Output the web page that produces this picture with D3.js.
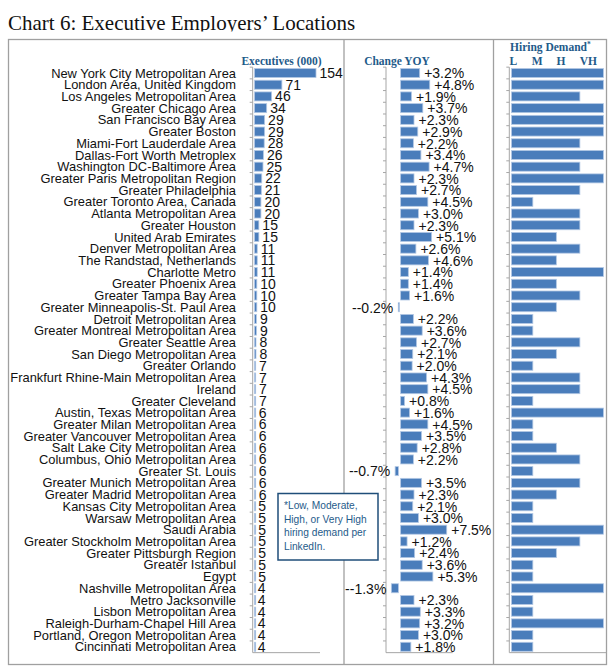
<!DOCTYPE html>
<html>
<head>
<meta charset="utf-8">
<script src="https://cdn.jsdelivr.net/npm/d3@7"></script>
<style>
  html, body { margin: 0; padding: 0; background: #fff; }
  svg { display: block; }
</style>
</head>
<body>
<div id="chart"></div>
<script>
// ---------------- DATA ----------------
const categories = [
  "New York City Metropolitan Area", "London Area, United Kingdom", "Los Angeles Metropolitan Area",
  "Greater Chicago Area", "San Francisco Bay Area", "Greater Boston", "Miami-Fort Lauderdale Area",
  "Dallas-Fort Worth Metroplex", "Washington DC-Baltimore Area", "Greater Paris Metropolitan Region",
  "Greater Philadelphia", "Greater Toronto Area, Canada", "Atlanta Metropolitan Area", "Greater Houston",
  "United Arab Emirates", "Denver Metropolitan Area", "The Randstad, Netherlands", "Charlotte Metro",
  "Greater Phoenix Area", "Greater Tampa Bay Area", "Greater Minneapolis-St. Paul Area",
  "Detroit Metropolitan Area", "Greater Montreal Metropolitan Area", "Greater Seattle Area",
  "San Diego Metropolitan Area", "Greater Orlando", "Frankfurt Rhine-Main Metropolitan Area", "Ireland",
  "Greater Cleveland", "Austin, Texas Metropolitan Area", "Greater Milan Metropolitan Area",
  "Greater Vancouver Metropolitan Area", "Salt Lake City Metropolitan Area", "Columbus, Ohio Metropolitan Area",
  "Greater St. Louis", "Greater Munich Metropolitan Area", "Greater Madrid Metropolitan Area",
  "Kansas City Metropolitan Area", "Warsaw Metropolitan Area", "Saudi Arabia",
  "Greater Stockholm Metropolitan Area", "Greater Pittsburgh Region", "Greater Istanbul", "Egypt",
  "Nashville Metropolitan Area", "Metro Jacksonville", "Lisbon Metropolitan Area",
  "Raleigh-Durham-Chapel Hill Area", "Portland, Oregon Metropolitan Area", "Cincinnati Metropolitan Area"
];
const executives = [154, 71, 46, 34, 29, 29, 28, 26, 25, 22, 21, 20, 20, 15, 15, 11, 11, 11, 10, 10, 10,
  9, 9, 8, 8, 7, 7, 7, 7, 6, 6, 6, 6, 6, 6, 6, 6, 5, 5, 5, 5, 5, 5, 5, 4, 4, 4, 4, 4, 4];
const changeYOY = [3.2, 4.8, 1.9, 3.7, 2.3, 2.9, 2.2, 3.4, 4.7, 2.3, 2.7, 4.5, 3.0, 2.3, 5.1, 2.6, 4.6,
  1.4, 1.4, 1.6, -0.2, 2.2, 3.6, 2.7, 2.1, 2.0, 4.3, 4.5, 0.8, 1.6, 4.5, 3.5, 2.8, 2.2, -0.7, 3.5, 2.3,
  2.1, 3.0, 7.5, 1.2, 2.4, 3.6, 5.3, -1.3, 2.3, 3.3, 3.2, 3.0, 1.8];
const hiringDemand = ["VH", "VH", "H", "VH", "VH", "VH", "H", "VH", "H", "VH", "H", "L", "H", "H", "M",
  "H", "M", "VH", "M", "H", "M", "L", "L", "H", "M", "L", "H", "H", "L", "VH", "L", "L", "M", "H", "L",
  "H", "M", "L", "L", "VH", "H", "M", "L", "L", "VH", "L", "L", "VH", "L", "L"];
const hiringLevels = ["L", "M", "H", "VH"];

const titleText = "Chart 6: Executive Employers\u2019 Locations";
const headerExec = "Executives (000)";
const headerChange = "Change YOY";
const headerHiring = "Hiring Demand";
const noteLines = ["*Low, Moderate,", "High, or Very High", "hiring demand per", "LinkedIn."];

// ---------------- LAYOUT ----------------
const W = 612, H = 670;
const barFill = "#4a7dbb", barStroke = "#b3c8e4";
const headColor = "#1f5b8a";
const axisColor = "#a6a6a6";
const frameColor = "#a0a0a0";

const svg = d3.select("#chart").append("svg")
  .attr("width", W).attr("height", H)
  .attr("viewBox", `0 0 ${W} ${H}`);

// Title (its lower part is clipped in the reference)
svg.append("clipPath").attr("id", "titleClip")
  .append("rect").attr("x", 0).attr("y", 0).attr("width", W).attr("height", 31.5);
svg.append("text")
  .attr("clip-path", "url(#titleClip)")
  .attr("x", 8).attr("y", 30)
  .attr("font-family", "'Liberation Serif', 'Times New Roman', serif")
  .attr("font-size", 21)
  .attr("fill", "#111")
  .text(titleText);

// Frame
const frame = { x0: 8.5, y0: 39.5, x1: 606.5, y1: 664.5 };
svg.append("rect")
  .attr("x", frame.x0).attr("y", frame.y0)
  .attr("width", frame.x1 - frame.x0).attr("height", frame.y1 - frame.y0)
  .attr("fill", "none").attr("stroke", frameColor).attr("stroke-width", 1.3);
[344, 493.5].forEach(x => {
  svg.append("line").attr("x1", x).attr("x2", x).attr("y1", frame.y0).attr("y2", frame.y1)
    .attr("stroke", frameColor).attr("stroke-width", 1.3);
});

// Band scale for rows
const y = d3.scaleBand().domain(categories).range([67.15, 652.65]).paddingInner(0.23).paddingOuter(0.115);
const step = y.step();
const rows = categories.map((c, i) => ({
  name: c, exec: executives[i], chg: changeYOY[i],
  hire: hiringLevels.indexOf(hiringDemand[i]) + 1
}));

// Scales for each panel
const xE = d3.scaleLinear().domain([0, 163.7]).range([252.7, 320]);
const xC = d3.scaleLinear().domain([-2.15, 8.45]).range([386, 452.7]);
const xH = d3.scaleLinear().domain([0, 4.11]).range([509.3, 606]);

function drawAxis(x0, x1) {
  const g = svg.append("g");
  const yTop = y.range()[0], yBot = y.range()[1];
  g.append("line").attr("x1", x0).attr("x2", x0).attr("y1", yTop).attr("y2", yBot)
    .attr("stroke", axisColor).attr("stroke-width", 1);
  g.append("line").attr("x1", x0).attr("x2", x1).attr("y1", yBot).attr("y2", yBot)
    .attr("stroke", axisColor).attr("stroke-width", 1);
  const ticks = d3.range(categories.length).map(i => yTop + i * step);
  g.selectAll("line.tick").data(ticks).join("line").attr("class", "tick")
    .attr("x1", x0 - 3).attr("x2", x0).attr("y1", d => d).attr("y2", d => d)
    .attr("stroke", axisColor).attr("stroke-width", 1);
}
drawAxis(xE.range()[0], xE.range()[1]);
drawAxis(xC.range()[0], xC.range()[1]);
drawAxis(xH.range()[0], xH.range()[1]);

const sans = "'Liberation Sans', Arial, Helvetica, sans-serif";
const serif = "'Liberation Serif', 'Times New Roman', serif";
const cy = d => y(d.name) + y.bandwidth() / 2;

// Category labels
svg.append("g").selectAll("text").data(rows).join("text")
  .attr("x", 236).attr("y", cy).attr("dy", "0.36em")
  .attr("text-anchor", "end")
  .attr("font-family", sans).attr("font-size", 12.9).attr("fill", "#111")
  .text(d => d.name);

// Executives bars
const inset = 1.8;
svg.append("g").selectAll("rect").data(rows).join("rect")
  .attr("x", xE(0) + inset).attr("y", d => y(d.name))
  .attr("width", d => Math.max(1.2, xE(d.exec) - xE(0) - inset))
  .attr("height", y.bandwidth())
  .attr("fill", barFill).attr("stroke", barStroke).attr("stroke-width", 0.8);
svg.append("g").selectAll("text").data(rows).join("text")
  .attr("x", d => xE(d.exec) + 3.5).attr("y", cy).attr("dy", "0.36em")
  .attr("font-family", sans).attr("font-size", 14).attr("fill", "#111")
  .text(d => d.exec);

// Change YOY bars
const z = xC(0);
svg.append("g").selectAll("rect").data(rows).join("rect")
  .attr("x", d => d.chg >= 0 ? z + 1.1 : xC(d.chg))
  .attr("y", d => y(d.name))
  .attr("width", d => Math.max(1.2, Math.abs(xC(d.chg) - z) - 1.1))
  .attr("height", y.bandwidth())
  .attr("fill", barFill).attr("stroke", barStroke).attr("stroke-width", 0.8);
svg.append("g").selectAll("text").data(rows).join("text")
  .attr("x", d => d.chg >= 0 ? xC(d.chg) + 4.5 : xC(d.chg) - 5)
  .attr("y", cy).attr("dy", "0.38em")
  .attr("text-anchor", d => d.chg >= 0 ? "start" : "end")
  .attr("font-family", sans).attr("font-size", 14).attr("fill", "#111")
  .text(d => (d.chg >= 0 ? "+" : "-") + d.chg.toFixed(1) + "%");

// Hiring demand bars
svg.append("g").selectAll("rect").data(rows).join("rect")
  .attr("x", xH(0) + 2.2).attr("y", d => y(d.name))
  .attr("width", d => xH(d.hire) - xH(0) - 2.2)
  .attr("height", y.bandwidth())
  .attr("fill", barFill).attr("stroke", barStroke).attr("stroke-width", 0.8);

// Headers
function header(txt, x, yy, anchor) {
  return svg.append("text").attr("x", x).attr("y", yy).attr("text-anchor", anchor || "middle")
    .attr("font-family", serif).attr("font-weight", "bold").attr("font-size", 11.5)
    .attr("fill", headColor).text(txt);
}
header(headerExec, 281.5, 64.5);
header(headerChange, 397, 64.5);
const hh = header(headerHiring, 510, 50.5, "start");
hh.append("tspan").attr("font-size", 7.5).attr("dy", -4).text("*");
svg.append("g").selectAll("text").data(hiringLevels).join("text")
  .attr("x", (d, i) => [513.3, 537.3, 561, 588.3][i])
  .attr("y", 64.5).attr("text-anchor", "middle")
  .attr("font-family", serif).attr("font-weight", "bold").attr("font-size", 11.5)
  .attr("fill", headColor).text(d => d);

// Note box
svg.append("rect").attr("x", 278).attr("y", 493.5).attr("width", 100).attr("height", 66.5)
  .attr("fill", "#fff").attr("stroke", "#1f4e79").attr("stroke-width", 1.5);
svg.append("g").selectAll("text").data(noteLines).join("text")
  .attr("x", 284).attr("y", (d, i) => 505 + i * 13.9).attr("dy", "0.36em")
  .attr("font-family", sans).attr("font-size", 10.2).attr("fill", headColor)
  .text(d => d);
</script>
</body>
</html>
